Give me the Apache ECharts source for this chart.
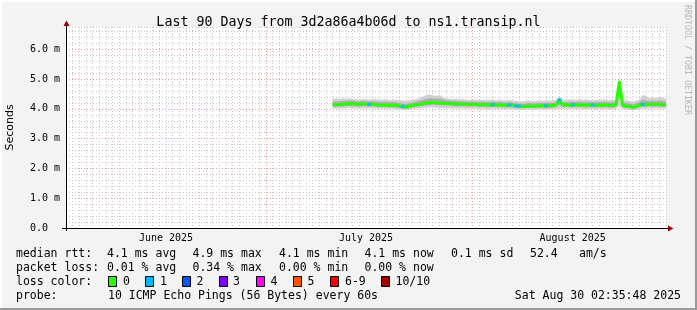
<!DOCTYPE html>
<html><head><meta charset="utf-8">
<script src="https://cdn.jsdelivr.net/npm/echarts@6/dist/echarts.min.js"></script>
<style>html,body{margin:0;padding:0;background:#f3f3f3}#c{width:697px;height:310px}</style>
</head><body><div id="c"></div>
<script>
// sampling grid: days since 1 June 2025 (x axis 0..90 days)
const startDay = 40, stepDay = 0.5;

// median RTT (ms)
const median = [
4.14,4.14,4.15,4.15,4.17,4.18,4.17,4.16,4.15,4.17,
4.16,4.15,4.16,4.14,4.13,4.12,4.13,4.12,4.13,4.12,
4.10,4.08,4.06,4.09,4.12,4.14,4.15,4.17,4.19,4.21,
4.22,4.21,4.20,4.19,4.18,4.18,4.17,4.16,4.17,4.16,
4.16,4.15,4.16,4.15,4.14,4.15,4.14,4.13,4.14,4.13,
4.14,4.13,4.12,4.13,4.12,4.10,4.09,4.08,4.09,4.10,
4.09,4.10,4.10,4.11,4.10,4.11,4.11,4.12,4.30,4.13,
4.14,4.13,4.14,4.13,4.14,4.13,4.12,4.13,4.13,4.12,
4.13,4.12,4.13,4.12,4.12,4.13,4.93,4.12,4.10,4.09,
4.05,4.08,4.12,4.15,4.14,4.16,4.15,4.16,4.15,4.14,
4.14];

// smoke: outer band (ms)
const outerLow = [
4.02,4.01,4.02,4.01,4.02,4.03,4.02,4.01,4.02,4.01,
4.02,4.01,4.02,4.01,4.00,4.01,4.00,4.01,4.00,3.99,
3.98,3.97,3.96,3.98,4.00,4.01,4.02,4.03,4.04,4.05,
4.05,4.04,4.04,4.03,4.03,4.02,4.02,4.01,4.02,4.01,
4.01,4.01,4.02,4.01,4.00,4.01,4.00,4.00,4.01,4.00,
4.00,3.99,3.99,4.00,3.99,3.98,3.97,3.96,3.97,3.98,
3.97,3.98,3.98,3.99,3.98,3.99,3.99,4.00,4.01,4.00,
4.01,4.00,4.01,4.00,4.01,4.00,3.99,4.00,4.00,3.99,
4.00,3.99,4.00,3.99,3.99,4.00,4.10,3.99,3.98,3.97,
3.95,3.97,3.99,4.01,4.01,4.02,4.01,4.02,4.01,4.01,
4.01];
const outerHigh = [
4.34,4.35,4.33,4.36,4.34,4.35,4.33,4.32,4.31,4.33,
4.32,4.31,4.33,4.32,4.30,4.31,4.32,4.30,4.31,4.30,
4.29,4.28,4.27,4.29,4.30,4.32,4.36,4.42,4.46,4.48,
4.46,4.43,4.47,4.41,4.36,4.33,4.32,4.34,4.31,4.33,
4.31,4.30,4.32,4.31,4.30,4.31,4.29,4.30,4.31,4.29,
4.30,4.29,4.28,4.30,4.28,4.27,4.26,4.25,4.27,4.28,
4.26,4.27,4.28,4.27,4.29,4.28,4.29,4.30,4.42,4.31,
4.30,4.32,4.31,4.30,4.33,4.31,4.32,4.30,4.29,4.31,
4.30,4.32,4.31,4.29,4.30,4.31,5.00,4.29,4.28,4.27,
4.25,4.27,4.31,4.47,4.44,4.36,4.39,4.35,4.41,4.37,
4.33];
// smoke: inner band (ms)
const innerLow = [
4.07,4.07,4.08,4.08,4.09,4.10,4.09,4.09,4.08,4.09,
4.09,4.08,4.09,4.07,4.06,4.06,4.06,4.05,4.06,4.05,
4.04,4.02,4.00,4.03,4.05,4.07,4.08,4.10,4.11,4.13,
4.14,4.13,4.12,4.12,4.11,4.11,4.10,4.09,4.10,4.09,
4.09,4.08,4.09,4.08,4.07,4.08,4.07,4.06,4.07,4.06,
4.07,4.06,4.05,4.06,4.05,4.04,4.03,4.02,4.03,4.04,
4.03,4.04,4.04,4.05,4.04,4.05,4.05,4.06,4.15,4.06,
4.07,4.06,4.07,4.06,4.07,4.06,4.05,4.06,4.06,4.05,
4.06,4.05,4.06,4.05,4.05,4.06,4.40,4.05,4.04,4.03,
3.99,4.02,4.06,4.08,4.07,4.09,4.08,4.09,4.08,4.07,
4.07];
const innerHigh = [
4.24,4.25,4.25,4.26,4.27,4.28,4.27,4.26,4.25,4.27,
4.26,4.25,4.26,4.24,4.23,4.23,4.24,4.22,4.23,4.22,
4.20,4.18,4.17,4.19,4.22,4.25,4.27,4.30,4.33,4.35,
4.36,4.34,4.35,4.32,4.29,4.28,4.27,4.27,4.26,4.26,
4.25,4.24,4.25,4.24,4.23,4.24,4.23,4.23,4.24,4.22,
4.23,4.22,4.21,4.22,4.21,4.19,4.18,4.17,4.18,4.20,
4.18,4.19,4.20,4.20,4.20,4.21,4.21,4.22,4.37,4.23,
4.23,4.23,4.24,4.23,4.24,4.23,4.22,4.23,4.22,4.22,
4.23,4.22,4.23,4.22,4.22,4.23,4.98,4.22,4.20,4.18,
4.15,4.18,4.22,4.30,4.28,4.26,4.27,4.25,4.28,4.26,
4.24];

// samples with 1 lost ping
const lossOneIdx = [11,21,48,53,55,56,64,68,72,78,93];

// axis labels
const monthLabels = [{day:15,text:'June 2025'},{day:45,text:'July 2025'},{day:76,text:'August 2025'}];
const monthStarts = [30,61];
const yMajor = [1,2,3,4,5,6];

const titleText = 'Last 90 Days from 3d2a86a4b06d to ns1.transip.nl';
const rttRow = [['median rtt:',16],['4.1 ms avg',107],['4.9 ms max',192.5],['4.1 ms min',279],['4.1 ms now',364.5],['0.1 ms sd',451],['52.4',530],['am/s',579]];
const lossRow = [['packet loss:',16],['0.01 % avg',107],['0.34 % max',192.5],['0.00 % min',279],['0.00 % now',364.5]];
const lossColors = [['0','#26ff00',108,123],['1','#00b8ff',145,160],['2','#0059ff',182,196.5],['3','#7e00ff',219,233],['4','#ff00ff',256,270.5],['5','#ff5500',293,307.5],['6-9','#ff0000',330,345],['10/10','#a10000',381,395.5]];
const probeText = '10 ICMP Echo Pings (56 Bytes) every 60s';
const dateText = 'Sat Aug 30 02:35:48 2025';

const xData = median.map((_, i) => startDay + i * stepDay);
const pairs = arr => arr.map((v, i) => [xData[i], v]);
const bandRows = (lo, hi) => lo.map((v, i) => [xData[i], v, hi[i]]);

const MONO = '"DejaVu Sans Mono", monospace';
const MINOR = '#c8c8c8', MAJOR = '#ee9a9a';
// split-line colours cycle per tick index: x ticks are days 0..90, y ticks every 0.2 ms
const xGridColors = Array.from({length:91}, (_, d) => monthStarts.includes(d) ? MAJOR : MINOR);
const yGridColors = Array.from({length:35}, (_, k) => (k % 5 === 0 && k > 0 && yMajor.includes(k / 5)) ? MAJOR : MINOR);

function bandSeries(rows, color, z) {
  return {type:'custom', data:rows, z, silent:true, clip:true,
    encode:{x:0, y:[1,2]},
    renderItem:(params, api) => {
      if (params.dataIndex !== 0) return null;
      const top = rows.map(r => api.coord([r[0], r[2]]));
      const bot = rows.map(r => api.coord([r[0], r[1]])).reverse();
      return {type:'polygon', shape:{points:top.concat(bot)}, style:{fill:color, stroke:null}};
    }};
}

const graphics = [];
const txt = (x, y, text, extra) => graphics.push(Object.assign({type:'text', x, y, silent:true, style:{text, fill:'#000', font:'11.5px ' + MONO, textVerticalAlign:'middle', textAlign:'left'}}, extra || {}));
rttRow.forEach(([t,x]) => txt(x, 254, t));
lossRow.forEach(([t,x]) => txt(x, 268, t));
txt(16, 282, 'loss color:');
lossColors.forEach(([t,c,bx,tx]) => {
  graphics.push({type:'rect', silent:true, shape:{x:bx+0.5, y:276.5, width:8, height:10}, style:{fill:c, stroke:'#000', lineWidth:1}});
  txt(tx, 282, t);
});
txt(16, 296, 'probe:');
txt(108, 296, probeText);
graphics.push({type:'text', x:681, y:296, silent:true, style:{text:dateText, fill:'#000', font:'11.5px ' + MONO, textVerticalAlign:'middle', textAlign:'right'}});
// watermark
graphics.push({type:'text', x:687, y:5, rotation:-Math.PI/2, silent:true, style:{text:'RRDTOOL / TOBI OETIKER', fill:'#b8b8b8', font:'8.3px ' + MONO, textVerticalAlign:'middle', textAlign:'left'}});
// axis extensions and arrows
graphics.push({type:'line', silent:true, shape:{x1:66.5, y1:27, x2:66.5, y2:23}, style:{stroke:'#000', lineWidth:1}});
graphics.push({type:'line', silent:true, shape:{x1:66.5, y1:228, x2:66.5, y2:231}, style:{stroke:'#000', lineWidth:1}});
graphics.push({type:'line', silent:true, shape:{x1:62, y1:228.5, x2:66, y2:228.5}, style:{stroke:'#000', lineWidth:1}});
graphics.push({type:'line', silent:true, shape:{x1:666, y1:228.5, x2:669, y2:228.5}, style:{stroke:'#000', lineWidth:1}});
graphics.push({type:'polygon', silent:true, shape:{points:[[63.5,26],[69.5,26],[66.5,20.5]]}, style:{fill:'#990000'}});
graphics.push({type:'polygon', silent:true, shape:{points:[[668,225.5],[668,231.5],[673.5,228.5]]}, style:{fill:'#990000'}});
// frame
graphics.push({type:'rect', silent:true, shape:{x:695, y:0, width:2, height:310}, style:{fill:'#9a9a9a'}});
graphics.push({type:'rect', silent:true, shape:{x:0, y:308, width:697, height:2}, style:{fill:'#9a9a9a'}});
graphics.push({type:'rect', silent:true, shape:{x:0, y:0, width:695, height:2}, style:{fill:'#ffffff'}});
graphics.push({type:'rect', silent:true, shape:{x:0, y:0, width:2, height:308}, style:{fill:'#ffffff'}});

const chart = echarts.init(document.getElementById('c'), null, {renderer:'canvas'});
chart.setOption({
  animation:false,
  backgroundColor:'#f3f3f3',
  title:{text:titleText, left:'center', top:11, textStyle:{fontFamily:MONO, fontSize:13.3, fontWeight:'normal', color:'#000'}},
  grid:{left:66, top:27, width:600, height:201, show:true, backgroundColor:'#ffffff', borderWidth:0, containLabel:false, outerBoundsMode:'none'},
  xAxis:{type:'value', min:0, max:90, interval:1,
    axisLine:{show:true, lineStyle:{color:'#000', width:1}},
    axisTick:{show:false},
    splitLine:{show:true, lineStyle:{color:xGridColors, type:[1,2], width:1}},
    axisLabel:{margin:5, fontFamily:MONO, fontSize:10, color:'#000', hideOverlap:false,
      formatter:v => { const m = monthLabels.find(o => Math.abs(o.day - v) < 1e-6); return m ? m.text : ''; }}},
  yAxis:{type:'value', min:0, max:6.75, interval:0.2,
    name:'Seconds', nameLocation:'middle', nameRotate:90, nameGap:50,
    nameTextStyle:{fontFamily:'"DejaVu Sans", sans-serif', fontSize:11, color:'#000'},
    axisLine:{show:true, lineStyle:{color:'#000', width:1}},
    axisTick:{show:false},
    splitLine:{show:true, lineStyle:{color:yGridColors, type:[1,2], width:1}},
    axisLabel:{margin:6, fontFamily:MONO, fontSize:10, color:'#000',
      formatter:v => { if (Math.abs(v - Math.round(v)) > 1e-6 || v > 6.5) return ''; const r = Math.round(v); return r === 0 ? '0.0  ' : r.toFixed(1) + ' m'; }}},
  graphic:graphics,
  series:[
    bandSeries(bandRows(outerLow, outerHigh), '#d0d0d0', 2),
    bandSeries(bandRows(innerLow, innerHigh), '#adadad', 3),
    {type:'line', data:pairs(median), symbol:'none', lineStyle:{color:'#26ff00', width:3}, z:4, silent:true},
    {type:'scatter', data:lossOneIdx.map(i => [xData[i], median[i]]), symbol:'rect', symbolSize:[4,3], itemStyle:{color:'#00b8ff'}, z:5, silent:true}
  ]
});
</script></body></html>
